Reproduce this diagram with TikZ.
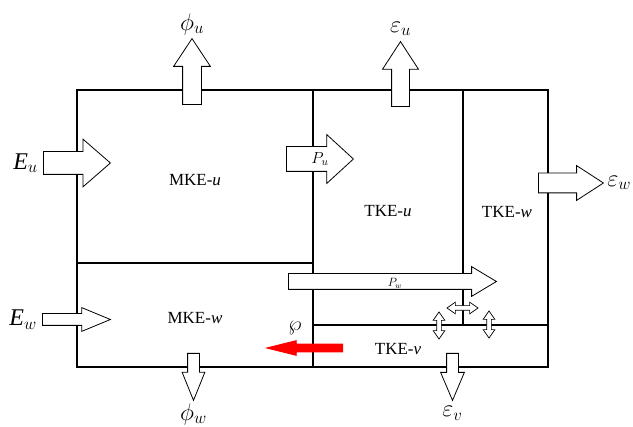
\RequirePackage{fix-cm}
\documentclass[tikz,border=0pt]{standalone}
\usepackage{amsmath}
\usepackage{fontspec}
\setmainfont{Liberation Serif}
\usetikzlibrary{shapes.arrows, positioning}
\definecolor{redflow}{HTML}{FF0000}
\tikzset{
  wall/.style={line width=1.2pt, draw=black},
  flow/.style n args={4}{
    single arrow, draw=black, fill=white, line width=0.8pt,
    inner xsep=0pt, inner ysep=0.5*#2, minimum height=#1,
    single arrow head extend=#3, single arrow tip angle=#4, anchor=tail,
  },
  swap/.style n args={4}{
    double arrow, draw=black, fill=white, line width=0.7pt,
    inner xsep=0pt, inner ysep=0.5*#2, minimum height=#1,
    double arrow head extend=#3, double arrow tip angle=#4,
  },
  boxlabel/.style={font=\fontsize{17}{19}\selectfont, inner sep=0pt},
  biglabel/.style={font=\fontsize{24}{27}\selectfont, inner sep=0pt},
  midlabel/.style={font=\fontsize{16}{18}\selectfont, inner sep=0pt},
  smalllabel/.style={font=\fontsize{12}{14}\selectfont, inner sep=0pt},
}
\begin{document}
\begin{tikzpicture}[x=1pt, y=-1pt]
  \useasboundingbox (0,0) rectangle (633,427);

  % reservoirs
  \draw[wall] (77,90) rectangle (548,367);
  \draw[wall] (313,90) -- (313,367);
  \draw[wall] (463,90) -- (463,325);
  \draw[wall] (77,263) -- (313,263);
  \draw[wall] (313,325) -- (548,325);

  \node[boxlabel] (mkeu) at (195,180) {MKE-\textit{u}};
  \node[boxlabel] (tkeu) at (388,211) {TKE-\textit{u}};
  \node[boxlabel] (tkew) at (507,212) {TKE-\textit{w}};
  \node[boxlabel] (mkew) at (195,318) {MKE-\textit{w}};
  \node[boxlabel] (tkev) at (398,349) {TKE-\textit{v}};

  % fluxes in and out
  \node[flow={67pt}{22pt}{12.5pt}{82}] (Eu) at (43,163) {};
  \node[biglabel, left=5pt of Eu.tail] (Eulab) {$\textit{E}_u$};
  \node[flow={68pt}{11pt}{6pt}{45}] (Ew) at (42,319.5) {};
  \node[biglabel, left=5pt of Ew.tail] (Ewlab) {$\textit{E}_w$};
  \node[flow={66pt}{18pt}{9pt}{67}, rotate=90] (phiu) at (192,105) {};
  \node[biglabel, above=3pt of phiu.tip] (phiulab) {$\phi_u$};
  \node[flow={65pt}{17pt}{9pt}{66}, rotate=90] (epsu) at (400.5,107) {};
  \node[biglabel, above=5pt of epsu.tip] (epsulab) {$\varepsilon_u$};
  \node[flow={65pt}{19pt}{7.5pt}{66}] (epsw) at (538,183) {};
  \node[biglabel, right=3pt of epsw.tip] (epswlab) {$\varepsilon_w$};
  \node[flow={47pt}{11pt}{5.5pt}{44}, rotate=-90] (phiw) at (193.5,353) {};
  \node[biglabel, below=2pt of phiw.tip] (phiwlab) {$\phi_w$};
  \node[flow={47pt}{11pt}{6pt}{46}, rotate=-90] (epsv) at (452.5,353) {};
  \node[biglabel, below=5pt of epsv.tip] (epsvlab) {$\varepsilon_v$};

  % transfers
  \node[flow={67pt}{24pt}{12pt}{85}] (Pu) at (286,159) {};
  \node[midlabel] (Pulab) at ([xshift=34pt]Pu.tail) {$P_u$};
  \node[flow={208pt}{15pt}{7pt}{62}] (Pw) at (288,281.5) {};
  \node[smalllabel] (Pwlab) at ([xshift=107pt, yshift=-2pt]Pw.tail) {$P_w$};
  \node[flow={76pt}{7pt}{3.5pt}{28}, rotate=180, draw=redflow, fill=redflow]
    (wpflow) at (343,348) {};
  \node[font=\fontsize{21}{23}\selectfont, inner sep=0pt] (wplab) at (295,328) {$\wp$};

  % redistribution
  \node[swap={31pt}{4pt}{3.5pt}{70}] (uw) at (462.5,308) {};
  \node[swap={27pt}{4pt}{3.5pt}{70}, rotate=90] (uv) at (439,325.5) {};
  \node[swap={27pt}{4pt}{3.5pt}{70}, rotate=90] (wv) at (489,324.5) {};

\end{tikzpicture}
\end{document}
